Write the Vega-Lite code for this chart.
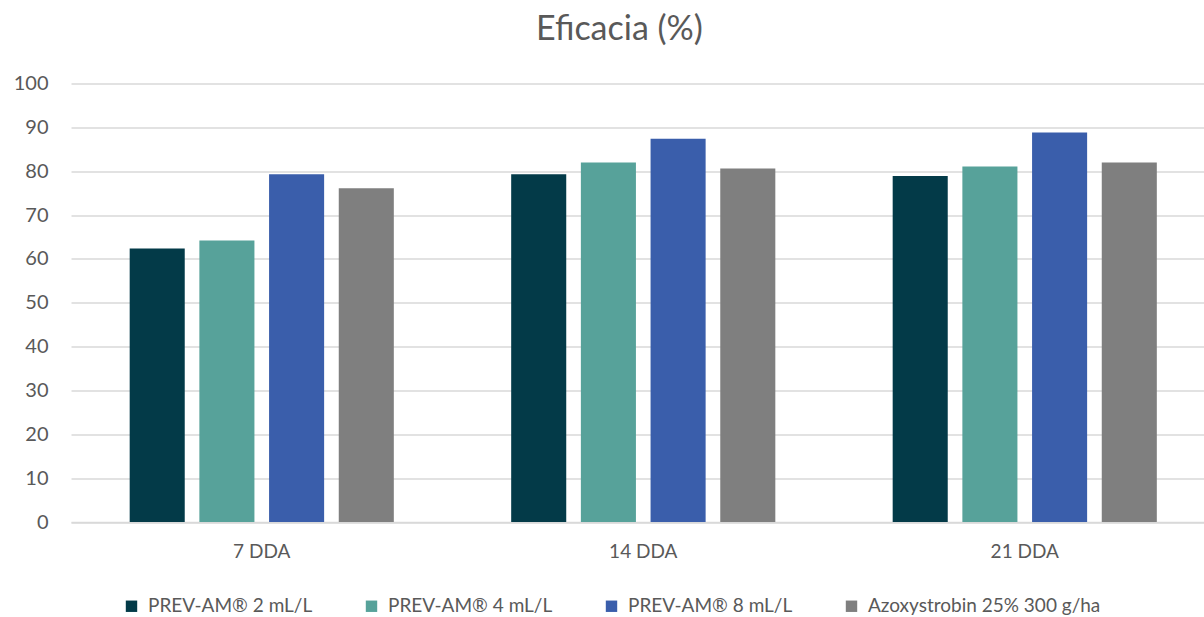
{
  "$schema": "https://vega.github.io/schema/vega-lite/v6.json",
  "autosize": {"type": "none"},
  "padding": {"left": 71, "top": 83.5, "right": 0, "bottom": 95},
  "width": 1144.5,
  "height": 438.5,
  "background": "white",
  "config": {
    "font": "Lato",
    "view": {"stroke": null}
  },
  "title": {
    "text": "Eficacia (%)",
    "fontSize": 34,
    "fontWeight": "normal",
    "color": "#595959",
    "anchor": "start",
    "frame": "group",
    "dx": 465,
    "offset": 27
  },
  "data": {
    "values": [
      {"fecha": "7 DDA", "tratamiento": "PREV-AM® 2 mL/L", "eficacia": 62.4},
      {"fecha": "7 DDA", "tratamiento": "PREV-AM® 4 mL/L", "eficacia": 64.2},
      {"fecha": "7 DDA", "tratamiento": "PREV-AM® 8 mL/L", "eficacia": 79.3},
      {"fecha": "7 DDA", "tratamiento": "Azoxystrobin 25% 300 g/ha", "eficacia": 76.1},
      {"fecha": "14 DDA", "tratamiento": "PREV-AM® 2 mL/L", "eficacia": 79.3},
      {"fecha": "14 DDA", "tratamiento": "PREV-AM® 4 mL/L", "eficacia": 82.0},
      {"fecha": "14 DDA", "tratamiento": "PREV-AM® 8 mL/L", "eficacia": 87.4},
      {"fecha": "14 DDA", "tratamiento": "Azoxystrobin 25% 300 g/ha", "eficacia": 80.6},
      {"fecha": "21 DDA", "tratamiento": "PREV-AM® 2 mL/L", "eficacia": 78.9},
      {"fecha": "21 DDA", "tratamiento": "PREV-AM® 4 mL/L", "eficacia": 81.1},
      {"fecha": "21 DDA", "tratamiento": "PREV-AM® 8 mL/L", "eficacia": 88.8},
      {"fecha": "21 DDA", "tratamiento": "Azoxystrobin 25% 300 g/ha", "eficacia": 82.0}
    ]
  },
  "mark": {"type": "bar"},
  "encoding": {
    "x": {
      "field": "fecha",
      "type": "nominal",
      "sort": ["7 DDA", "14 DDA", "21 DDA"],
      "scale": {"paddingInner": 0, "paddingOuter": 0},
      "axis": {
        "title": null,
        "labelAngle": 0,
        "labelFontSize": 19,
        "labelColor": "#595959",
        "labelPadding": 20,
        "ticks": false,
        "domainColor": "#d9d9d9",
        "domainWidth": 1.5
      }
    },
    "xOffset": {
      "field": "tratamiento",
      "sort": ["PREV-AM® 2 mL/L", "PREV-AM® 4 mL/L", "PREV-AM® 8 mL/L", "Azoxystrobin 25% 300 g/ha"],
      "scale": {"paddingInner": 0.21, "paddingOuter": 0.842}
    },
    "y": {
      "field": "eficacia",
      "type": "quantitative",
      "scale": {"domain": [0, 100]},
      "axis": {
        "title": null,
        "values": [0, 10, 20, 30, 40, 50, 60, 70, 80, 90, 100],
        "labelFontSize": 20,
        "labelColor": "#595959",
        "labelPadding": 23,
        "ticks": false,
        "domain": false,
        "gridColor": "#d9d9d9",
        "gridWidth": 1.5
      }
    },
    "color": {
      "field": "tratamiento",
      "type": "nominal",
      "sort": ["PREV-AM® 2 mL/L", "PREV-AM® 4 mL/L", "PREV-AM® 8 mL/L", "Azoxystrobin 25% 300 g/ha"],
      "scale": {"range": ["#033a48", "#57a29a", "#3a5eab", "#7f7f7f"]},
      "legend": {
        "title": null,
        "orient": "none",
        "legendX": 51,
        "legendY": 513,
        "direction": "horizontal",
        "columns": 4,
        "symbolType": "square",
        "symbolSize": 130,
        "symbolStrokeWidth": 0,
        "labelFontSize": 19,
        "labelLimit": 0,
        "labelColor": "#595959",
        "labelOffset": 7,
        "columnPadding": 49
      }
    }
  }
}
